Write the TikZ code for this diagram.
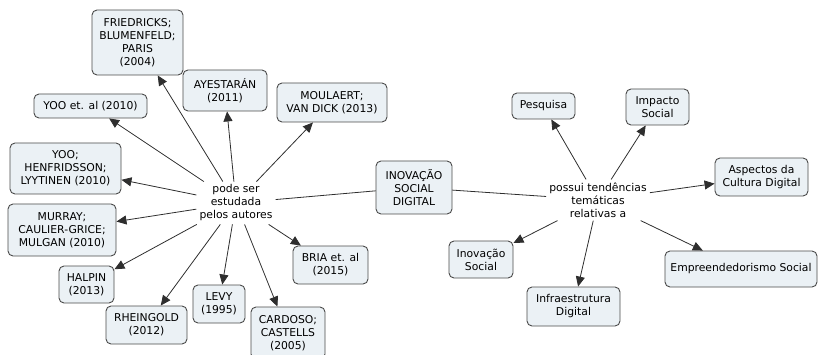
\documentclass[tikz,border=0pt]{standalone}
\usepackage{fontspec}
\setmainfont{DejaVu Sans}
\usetikzlibrary{arrows.meta}
\definecolor{boxfill}{HTML}{EBF1F5}
\definecolor{boxline}{HTML}{4A4A4A}
\definecolor{linkline}{HTML}{2E2E2E}
\tikzset{
  concept/.style={draw=boxline, fill=boxfill, line width=0.9pt, rounded corners=5pt,
    align=center, inner sep=2pt, font=\fontsize{10.8}{13}\selectfont, text=black},
  phrase/.style={align=center, inner sep=3pt, font=\fontsize{10.8}{13}\selectfont, text=black},
  link/.style={draw=linkline, line width=0.8pt, -{Triangle[length=10pt,width=9pt]}},
  plain/.style={draw=linkline, line width=0.8pt}
}
\begin{document}
\begin{tikzpicture}[x=1pt, y=-1pt]
\useasboundingbox (0,0) rectangle (818,355);
% central concept and linking phrases
\node[concept, minimum width=76pt, minimum height=53pt] (isd) at (414,187.5) {INOVAÇÃO\\SOCIAL\\DIGITAL};
\node[phrase] (autores) at (236,203) {pode ser\\estudada\\pelos autores};
\node[phrase] (tendencias) at (598,200) {possui tendências\\temáticas\\relativas a};
% authors
\node[concept, minimum width=91pt, minimum height=65pt] (fried) at (137.5,42.5) {FRIEDRICKS;\\BLUMENFELD;\\PARIS\\(2004)};
\node[concept, minimum width=84pt, minimum height=41pt] (ayes) at (225,90.5) {AYESTARÁN\\(2011)};
\node[concept, minimum width=113pt, minimum height=24pt] (yooetal) at (90.5,106) {YOO et. al (2010)};
\node[concept, minimum width=111pt, minimum height=51pt] (yoo) at (65.5,168.5) {YOO;\\HENFRIDSSON;\\LYYTINEN (2010)};
\node[concept, minimum width=110pt, minimum height=39pt] (moul) at (332,102.5) {MOULAERT;\\VAN DICK (2013)};
\node[concept, minimum width=108pt, minimum height=52pt] (murray) at (62,230) {MURRAY;\\CAULIER-GRICE;\\MULGAN (2010)};
\node[concept, minimum width=55pt, minimum height=37pt] (halpin) at (86.5,284.5) {HALPIN\\(2013)};
\node[concept, minimum width=81pt, minimum height=38pt] (rhein) at (146.5,325) {RHEINGOLD\\(2012)};
\node[concept, minimum width=52pt, minimum height=38pt] (levy) at (219,304) {LEVY\\(1995)};
\node[concept, minimum width=74pt, minimum height=52pt] (cardoso) at (288,333) {CARDOSO;\\CASTELLS\\(2005)};
\node[concept, minimum width=75pt, minimum height=38pt] (bria) at (330.5,265) {BRIA et. al\\(2015)};
% themes
\node[concept, minimum width=63pt, minimum height=26pt] (pesq) at (543.5,106) {Pesquisa};
\node[concept, minimum width=63pt, minimum height=36pt] (impacto) at (657.5,107) {Impacto\\Social};
\node[concept, minimum width=93pt, minimum height=38pt] (aspectos) at (761.5,177) {Aspectos da\\Cultura Digital};
\node[concept, minimum width=64pt, minimum height=37pt] (inovsoc) at (481,259.5) {Inovação\\Social};
\node[concept, minimum width=93pt, minimum height=39pt] (infra) at (573.5,306.5) {Infraestrutura\\Digital};
\node[concept, minimum width=152pt, minimum height=36pt] (empre) at (741,269) {Empreendedorismo Social};
% connectors
\draw[plain] (isd) -- (autores);
\draw[plain] (isd) -- (tendencias);
\foreach \t in {fried, ayes, yooetal, yoo, moul, murray, halpin, rhein, levy, cardoso, bria}
  \draw[link] (autores) -- (\t);
\foreach \t in {pesq, impacto, aspectos, inovsoc, infra, empre}
  \draw[link] (tendencias) -- (\t);
\end{tikzpicture}
\end{document}
